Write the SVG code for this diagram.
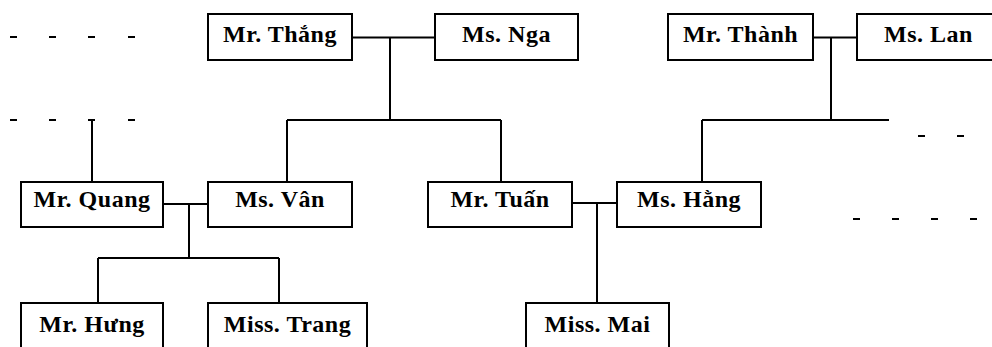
<svg xmlns="http://www.w3.org/2000/svg" width="992" height="347" viewBox="0 0 992 347">
<style>
.box{fill:#fff;stroke:#000;stroke-width:2}
.lbl{font-family:"Liberation Serif","Times New Roman",serif;font-weight:bold;font-size:24px;letter-spacing:0.5px;text-anchor:middle;fill:#000}
.ln{fill:none;stroke:#000;stroke-width:2}
.dash{stroke:#000;stroke-width:2}
</style>
<rect width="992" height="347" fill="#fff"/>
<g id="connectors">
<path class="ln" d="M352,37.5H435M390,37.5V120M287,120H501M287,120V182M501,120V182"/>
<path class="ln" d="M813,37.5H857M831,37.5V120M702,120H889M702,120V182"/>
<path class="ln" d="M92,120V182"/>
<path class="ln" d="M163,204H208M189,204V258M98,258H279M98,258V303M279,258V303"/>
<path class="ln" d="M572,203H617M597,203V303"/>
<g class="dash">
<path d="M10,37H17M49,37H56M88,37H95M128,37H135"/>
<path d="M10,120H17M49,120H56M88,120H95M128,120H135"/>
<path d="M918,136H925M957,136H964"/>
<path d="M853,219H860M892,219H899M931,219H938M970,219H977"/>
</g>
</g>
<g id="n-thang"><rect class="box" x="208" y="14" width="144" height="46"/><text class="lbl" x="280" y="42">Mr. Thắng</text></g>
<g id="n-nga"><rect class="box" x="435" y="14" width="143" height="46"/><text class="lbl" x="506.5" y="42">Ms. Nga</text></g>
<g id="n-thanh"><rect class="box" x="668" y="14" width="145" height="46"/><text class="lbl" x="740.5" y="42">Mr. Thành</text></g>
<g id="n-lan"><rect class="box" x="857" y="14" width="143" height="46"/><text class="lbl" x="928.5" y="42">Ms. Lan</text></g>
<g id="n-quang"><rect class="box" x="21" y="182" width="142" height="45"/><text class="lbl" x="92" y="207">Mr. Quang</text></g>
<g id="n-van"><rect class="box" x="208" y="182" width="144" height="45"/><text class="lbl" x="280" y="207">Ms. Vân</text></g>
<g id="n-tuan"><rect class="box" x="428" y="182" width="144" height="45"/><text class="lbl" x="500" y="207">Mr. Tuấn</text></g>
<g id="n-hang"><rect class="box" x="617" y="182" width="144" height="45"/><text class="lbl" x="689" y="207">Ms. Hằng</text></g>
<g id="n-hung"><rect class="box" x="21" y="303" width="142" height="50"/><text class="lbl" x="92" y="332">Mr. Hưng</text></g>
<g id="n-trang"><rect class="box" x="208" y="303" width="159" height="50"/><text class="lbl" x="287.5" y="332">Miss. Trang</text></g>
<g id="n-mai"><rect class="box" x="526" y="303" width="143" height="50"/><text class="lbl" x="597.5" y="332">Miss. Mai</text></g>
</svg>
